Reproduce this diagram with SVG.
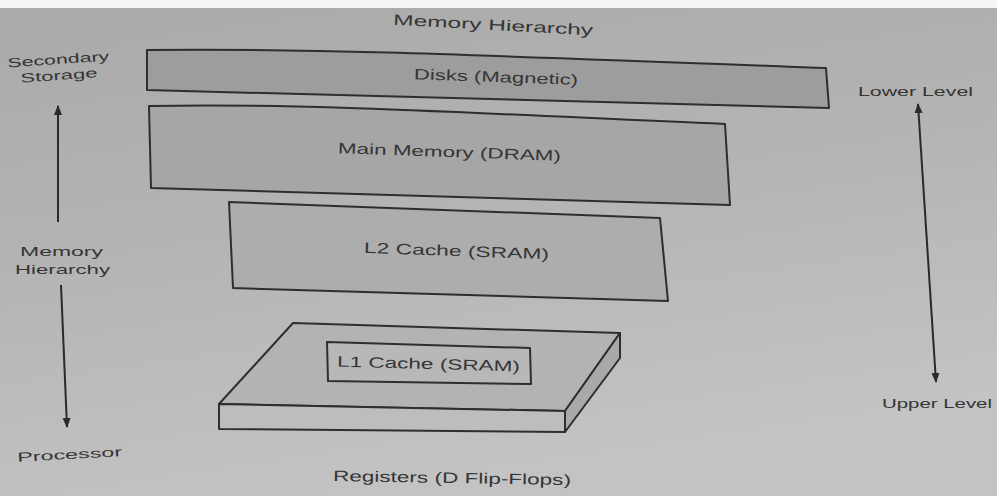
<svg xmlns="http://www.w3.org/2000/svg" width="997" height="496" viewBox="0 0 997 496">
<defs>
<linearGradient id="bg" x1="0" y1="0" x2="0.3" y2="1">
<stop offset="0" stop-color="#a9a9a9"/>
<stop offset="0.5" stop-color="#b4b4b4"/>
<stop offset="1" stop-color="#c3c3c3"/>
</linearGradient>
<marker id="ah" viewBox="0 0 10 10" refX="9" refY="5" markerWidth="5" markerHeight="5" orient="auto-start-reverse">
<path d="M0,1 L10,5 L0,9 z" fill="#2a2a2a"/>
</marker>
<style>
.t{font-family:"Liberation Sans",Arial,sans-serif;fill:#353535;font-size:15px}
.s{font-size:13px}
.box{stroke:#2e2e2e;stroke-width:2;stroke-linejoin:round}
.ln{stroke:#2a2a2a;stroke-width:2;fill:none}
</style>
</defs>
<rect width="997" height="496" fill="url(#bg)"/>
<rect width="997" height="8" fill="#f4f4f4"/>

<text class="t" x="393" y="30" textLength="200" lengthAdjust="spacingAndGlyphs" transform="rotate(3 493 28)">Memory Hierarchy</text>

<g id="secondary-storage">
<text class="t s" x="8" y="64" textLength="102" lengthAdjust="spacingAndGlyphs" transform="rotate(-4 58 70)">Secondary</text>
<text class="t s" x="20" y="80" textLength="77" lengthAdjust="spacingAndGlyphs" transform="rotate(-4 58 70)">Storage</text>
</g>

<g id="disks">
<path class="box" fill="#9d9d9d" d="M147,50 C300,48 450,54 826,68 L829,108 L147,90 Z"/>
<text class="t" x="414" y="82" textLength="164" lengthAdjust="spacingAndGlyphs" transform="rotate(2 495 77)">Disks (Magnetic)</text>
</g>

<g id="main-memory">
<path class="box" fill="#a6a6a6" d="M149,106 C300,103 450,112 725,124 L730,205 L151,188 Z"/>
<text class="t" x="338" y="157" textLength="223" lengthAdjust="spacingAndGlyphs" transform="rotate(2 448 151)">Main Memory (DRAM)</text>
</g>

<g id="l2-cache">
<path class="box" fill="#adadad" d="M229,202 L660,218 L668,301 L233,288 Z"/>
<text class="t" x="364" y="256" textLength="185" lengthAdjust="spacingAndGlyphs" transform="rotate(2 456 250)">L2 Cache (SRAM)</text>
</g>

<g id="l1-cache">
<path class="box" fill="#b3b3b3" d="M293,323 L620,333 L565,411 L219,404 Z"/>
<path class="box" fill="#bdbdbd" d="M219,404 L565,411 L565,432 L219,429 Z"/>
<path class="box" fill="#a9a9a9" d="M620,333 L620,358 L565,432 L565,411 Z"/>
<path class="box" fill="#b8b8b8" stroke-width="1.8" d="M327,342 L530,348 L531,384 L328,381 Z"/>
<text class="t" x="337" y="369" textLength="183" lengthAdjust="spacingAndGlyphs" transform="rotate(1.5 428 364)">L1 Cache (SRAM)</text>
</g>

<g id="registers">
<text class="t" x="333" y="483" textLength="238" lengthAdjust="spacingAndGlyphs" transform="rotate(1 451 478)">Registers (D Flip-Flops)</text>
</g>

<g id="memory-hierarchy-left">
<text class="t s" x="20" y="256" textLength="83" lengthAdjust="spacingAndGlyphs">Memory</text>
<text class="t s" x="15" y="274" textLength="95" lengthAdjust="spacingAndGlyphs">Hierarchy</text>
</g>

<g id="processor">
<text class="t s" x="17" y="459" textLength="105" lengthAdjust="spacingAndGlyphs" transform="rotate(-3 69 452)">Processor</text>
</g>

<g id="lower-level">
<text class="t s" x="858" y="96" textLength="115" lengthAdjust="spacingAndGlyphs">Lower Level</text>
</g>
<g id="upper-level">
<text class="t s" x="882" y="408" textLength="110" lengthAdjust="spacingAndGlyphs">Upper Level</text>
</g>

<g id="connectors">
<line class="ln" x1="58" y1="222" x2="58" y2="106" marker-end="url(#ah)"/>
<line class="ln" x1="61" y1="285" x2="67" y2="427" marker-end="url(#ah)"/>
<line class="ln" x1="918" y1="104" x2="936" y2="382" marker-start="url(#ah)" marker-end="url(#ah)"/>
</g>
</svg>
